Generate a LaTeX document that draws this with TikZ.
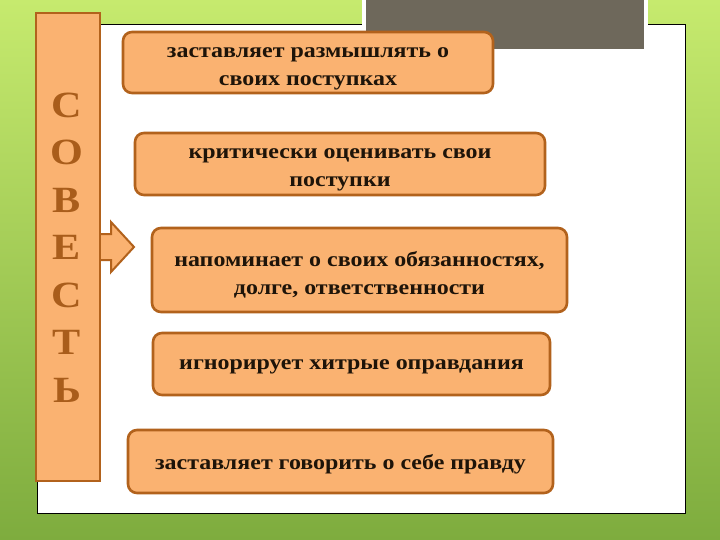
\documentclass[tikz,border=0pt]{standalone}
\usepackage{fontspec}
\setmainfont{Liberation Serif}
\newfontfamily\wideserif[FakeStretch=1.14]{Liberation Serif}
\begin{document}
\begin{tikzpicture}[x=1pt,y=-1pt,
  box/.style={draw=boxedge, fill=boxfill, line width=2.6pt, rounded corners=9pt, inner sep=0pt},
  txt/.style={align=center, font=\wideserif\bfseries\fontsize{21}{28}\selectfont, text=textdark, inner sep=0pt},
  letter/.style={text=letterbrown, font=\wideserif\bfseries\fontsize{37}{37}\selectfont, inner sep=0pt}]
\definecolor{boxfill}{HTML}{FAB271}
\definecolor{boxedge}{HTML}{B2621C}
\definecolor{textdark}{HTML}{1E1409}
\definecolor{letterbrown}{HTML}{A95D1B}
\definecolor{bgtop}{HTML}{C6EA6E}
\definecolor{bgbot}{HTML}{7EAC3E}
\definecolor{graybox}{HTML}{6E685B}
\useasboundingbox (0,0) rectangle (720,540);
% background
\shade[top color=bgtop, bottom color=bgbot] (0,0) rectangle (720,540);
% white panel
\node[draw=black, fill=white, line width=1pt, minimum width=648pt, minimum height=488pt, inner sep=0pt] (panel) at (361,269) {};
% gray picture at top
\node[draw=white, fill=graybox, line width=4pt, minimum width=282pt, minimum height=56pt, inner sep=0pt] (photo) at (505,23) {};
% left column
\node[draw=boxedge, fill=boxfill, line width=2pt, minimum width=64pt, minimum height=468pt, inner sep=0pt] (col) at (68,247) {};
\foreach \ch [count=\i] in {С,О,В,Е,С,Т,Ь}{
  \node[letter] (l\i) at (67,{105+(\i-1)*47.5}) {\ch};
}
% arrow
\draw[draw=boxedge, fill=boxfill, line width=2pt, line join=miter]
  (col.east |- 0,234) -- (111,234) -- (111,222) -- (134,247) -- (111,272) -- (111,260) -- (col.east |- 0,260);
% boxes
\node[box, minimum width=370pt, minimum height=61pt] (b1) at (308,62.5) {};
\node[txt] (t1) at ([yshift=-6pt]b1.center) {заставляет размышлять о\\своих поступках};
\node[box, minimum width=410pt, minimum height=62pt] (b2) at (340,164) {};
\node[txt] (t2) at ([yshift=-6pt]b2.center) {критически оценивать свои\\поступки};
\node[box, minimum width=415pt, minimum height=84pt] (b3) at (359.5,270) {};
\node[txt] (t3) at ([yshift=-5pt]b3.center) {напоминает о своих обязанностях,\\долге, ответственности};
\node[box, minimum width=397pt, minimum height=62pt] (b4) at (351.5,364) {};
\node[txt] (t4) at ([yshift=-3pt]b4.center) {игнорирует хитрые оправдания};
\node[box, minimum width=425pt, minimum height=63pt] (b5) at (340.5,461.5) {};
\node[txt] (t5) at ([yshift=-3pt]b5.center) {заставляет говорить о себе правду};
\end{tikzpicture}
\end{document}
